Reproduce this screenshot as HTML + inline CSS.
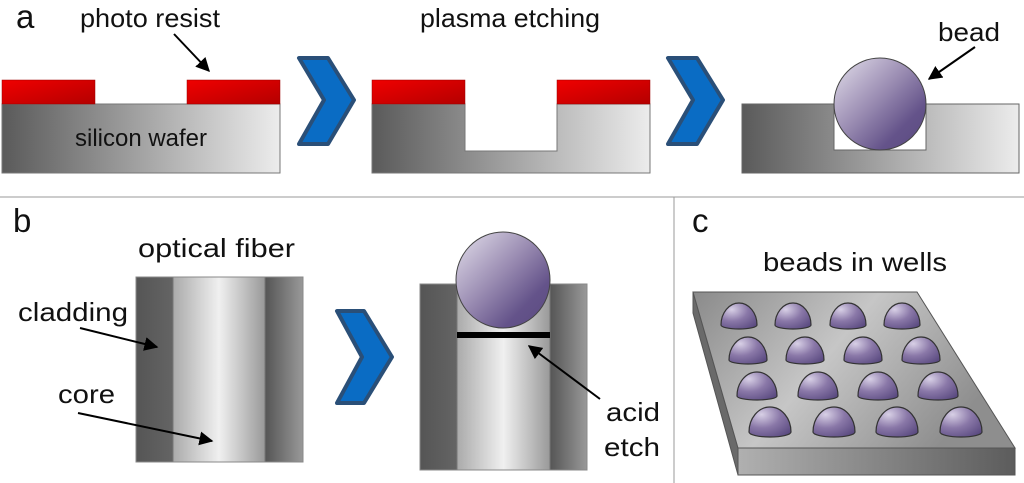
<!DOCTYPE html>
<html><head><meta charset="utf-8"><style>
html,body{margin:0;padding:0;background:#fff;}
svg{display:block;}
text{font-family:"Liberation Sans",sans-serif;fill:#111;}
</style></head><body>
<svg width="1024" height="483" viewBox="0 0 1024 483" xmlns="http://www.w3.org/2000/svg">
<defs>
<linearGradient id="wf" x1="0" x2="1" y1="0" y2="0"><stop offset="0" stop-color="#5a5a5a"/><stop offset="1" stop-color="#ececec"/></linearGradient>
<linearGradient id="rs" x1="0" x2="1" y1="0" y2="1"><stop offset="0" stop-color="#f00000"/><stop offset="1" stop-color="#b40000"/></linearGradient>
<linearGradient id="bd" x1="0" x2="1" y1="0" y2="1"><stop offset="0" stop-color="#e4e0ec"/><stop offset="0.45" stop-color="#9a8cb2"/><stop offset="0.75" stop-color="#64538a"/><stop offset="1" stop-color="#5a4a80"/></linearGradient>
<linearGradient id="cl" x1="0" x2="1"><stop offset="0" stop-color="#555"/><stop offset="1" stop-color="#999"/></linearGradient>
<linearGradient id="co" x1="0" x2="1"><stop offset="0" stop-color="#aaa"/><stop offset="0.5" stop-color="#f0f0f0"/><stop offset="1" stop-color="#999"/></linearGradient>
<linearGradient id="pl" x1="0" x2="1" y1="0" y2="0.4"><stop offset="0" stop-color="#8a8a8a"/><stop offset="0.5" stop-color="#c6c6c6"/><stop offset="1" stop-color="#8e8e8e"/></linearGradient>
<linearGradient id="pf" x1="0" x2="1"><stop offset="0" stop-color="#b0b0b0"/><stop offset="1" stop-color="#5c5c5c"/></linearGradient>
<radialGradient id="cap" cx="0.3" cy="0.25" r="0.9"><stop offset="0" stop-color="#d8d0e6"/><stop offset="0.5" stop-color="#8a78a8"/><stop offset="1" stop-color="#5a4a80"/></radialGradient>
<marker id="ah" viewBox="0 0 10 10" refX="9" refY="5" markerWidth="7" markerHeight="7" orient="auto"><path d="M0,0 L10,5 L0,10 z" fill="#000"/></marker>
</defs>

<line x1="0" y1="197" x2="1024" y2="197" stroke="#999" stroke-width="1"/>
<line x1="674" y1="197" x2="674" y2="483" stroke="#999" stroke-width="1"/>

<!-- panel a -->
<text x="16" y="28" font-size="33">a</text>
<text x="80" y="27" font-size="26" textLength="140" lengthAdjust="spacingAndGlyphs">photo resist</text>
<text x="420" y="27" font-size="26" textLength="180" lengthAdjust="spacingAndGlyphs">plasma etching</text>
<text x="938" y="41" font-size="26" textLength="62" lengthAdjust="spacingAndGlyphs">bead</text>

<rect x="2" y="104" width="278" height="69" fill="url(#wf)" stroke="#777"/>
<rect x="2" y="80" width="93" height="24" fill="url(#rs)" stroke="#900" stroke-width="0.5"/>
<rect x="187" y="80" width="93" height="24" fill="url(#rs)" stroke="#900" stroke-width="0.5"/>
<text x="75" y="146" font-size="24" textLength="132" lengthAdjust="spacingAndGlyphs">silicon wafer</text>
<line x1="174" y1="34" x2="209" y2="71" stroke="#000" stroke-width="2" marker-end="url(#ah)"/>

<path d="M299,58 L328,58 L354,100 L328,144 L299,144 L324,100 Z" fill="#0a6cc4" stroke="#2a4f78" stroke-width="4" stroke-linejoin="round"/>

<path d="M372,104 L465,104 L465,151 L557,151 L557,104 L650,104 L650,173 L372,173 Z" fill="url(#wf)" stroke="#777"/>
<rect x="372" y="80" width="93" height="24" fill="url(#rs)" stroke="#900" stroke-width="0.5"/>
<rect x="557" y="80" width="93" height="24" fill="url(#rs)" stroke="#900" stroke-width="0.5"/>

<path d="M668,58 L697,58 L723,100 L697,144 L668,144 L693,100 Z" fill="#0a6cc4" stroke="#2a4f78" stroke-width="4" stroke-linejoin="round"/>

<path d="M742,104 L834,104 L834,150 L926,150 L926,104 L1019,104 L1019,173 L742,173 Z" fill="url(#wf)" stroke="#666"/>
<circle cx="880" cy="104" r="46" fill="url(#bd)" stroke="#444"/>
<line x1="975" y1="47" x2="929" y2="79" stroke="#000" stroke-width="2" marker-end="url(#ah)"/>

<!-- panel b -->
<text x="13" y="232" font-size="33">b</text>
<text x="138" y="257" font-size="26" textLength="157" lengthAdjust="spacingAndGlyphs">optical fiber</text>
<text x="18" y="321" font-size="26" textLength="110" lengthAdjust="spacingAndGlyphs">cladding</text>
<text x="58" y="403" font-size="26" textLength="57" lengthAdjust="spacingAndGlyphs">core</text>

<rect x="136" y="277" width="167" height="185" fill="url(#cl)" stroke="#888"/>
<rect x="265" y="277" width="38" height="185" fill="url(#cl)"/>
<rect x="173" y="277" width="92" height="185" fill="url(#co)" stroke="#777"/>
<rect x="136" y="277" width="167" height="185" fill="none" stroke="#888"/>
<line x1="80" y1="328" x2="157" y2="347" stroke="#000" stroke-width="2" marker-end="url(#ah)"/>
<line x1="78" y1="413" x2="212" y2="441" stroke="#000" stroke-width="2" marker-end="url(#ah)"/>

<path d="M337,311 L364,311 L392,357 L364,403 L337,403 L362,357 Z" fill="#0a6cc4" stroke="#2a4f78" stroke-width="4" stroke-linejoin="round"/>

<rect x="420" y="284" width="167" height="186" fill="url(#cl)" stroke="#888"/>
<rect x="550" y="284" width="37" height="186" fill="url(#cl)"/>
<rect x="457" y="284" width="93" height="186" fill="url(#co)" stroke="#777"/>
<rect x="420" y="284" width="167" height="186" fill="none" stroke="#888"/>
<rect x="457" y="332" width="93" height="6" fill="#000"/>
<ellipse cx="503" cy="280" rx="47" ry="48" fill="url(#bd)" stroke="#444"/>
<line x1="600" y1="399" x2="529" y2="346" stroke="#000" stroke-width="2" marker-end="url(#ah)"/>
<text x="606" y="421" font-size="26" textLength="54" lengthAdjust="spacingAndGlyphs">acid</text>
<text x="604" y="456" font-size="26" textLength="56" lengthAdjust="spacingAndGlyphs">etch</text>

<!-- panel c -->
<text x="692" y="232" font-size="33">c</text>
<text x="763" y="271" font-size="26" textLength="184" lengthAdjust="spacingAndGlyphs">beads in wells</text>

<path d="M693,292 L738,448 L738,475 L693,313 Z" fill="#6a6a6a" stroke="#555"/>
<rect x="738" y="448" width="277" height="27" fill="url(#pf)" stroke="#555"/>
<path d="M693,292 L917,292 L1015,448 L738,448 Z" fill="url(#pl)" stroke="#555"/>

<g stroke="#333" stroke-width="1.2" fill="url(#cap)">
<path d="M721,325 A18,22 0 0 1 757,325 A18,4 0 0 1 721,325 Z"/>
<path d="M775,325 A18,22 0 0 1 811,325 A18,4 0 0 1 775,325 Z"/>
<path d="M830,325 A18,22 0 0 1 866,325 A18,4 0 0 1 830,325 Z"/>
<path d="M884,325 A18,22 0 0 1 920,325 A18,4 0 0 1 884,325 Z"/>
<path d="M729,360 A19,23 0 0 1 767,360 A19,4 0 0 1 729,360 Z"/>
<path d="M786,360 A19,23 0 0 1 824,360 A19,4 0 0 1 786,360 Z"/>
<path d="M844,360 A19,23 0 0 1 882,360 A19,4 0 0 1 844,360 Z"/>
<path d="M902,360 A19,23 0 0 1 940,360 A19,4 0 0 1 902,360 Z"/>
<path d="M737,396 A20,24 0 0 1 777,396 A20,4 0 0 1 737,396 Z"/>
<path d="M798,396 A20,24 0 0 1 838,396 A20,4 0 0 1 798,396 Z"/>
<path d="M858,396 A20,24 0 0 1 898,396 A20,4 0 0 1 858,396 Z"/>
<path d="M918,396 A20,24 0 0 1 958,396 A20,4 0 0 1 918,396 Z"/>
<path d="M749,432 A21,25 0 0 1 791,432 A21,5 0 0 1 749,432 Z"/>
<path d="M813,432 A21,25 0 0 1 855,432 A21,5 0 0 1 813,432 Z"/>
<path d="M876,432 A21,25 0 0 1 918,432 A21,5 0 0 1 876,432 Z"/>
<path d="M940,432 A21,25 0 0 1 982,432 A21,5 0 0 1 940,432 Z"/>
</g>
</svg>
</body></html>
